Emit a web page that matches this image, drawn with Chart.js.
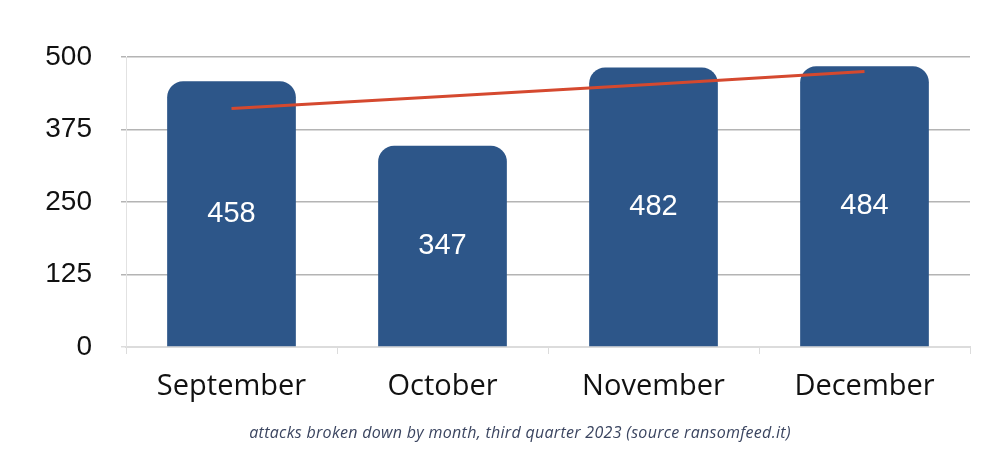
<!DOCTYPE html>
<html>
<head>
<meta charset="utf-8">
<script src="https://cdn.jsdelivr.net/npm/chart.js@4/dist/chart.umd.min.js"></script>
<style>
  html, body { margin: 0; padding: 0; background: #fff; }
  #wrap { position: relative; width: 1004px; height: 459px; }
</style>
</head>
<body>
<div id="wrap"><canvas id="c" width="1004" height="459"></canvas></div>
<script>
// dati
var mesi = ["September", "October", "November", "December"];
var attacchi = [458, 347, 482, 484];
var tendenza = [411, 432, 453, 475];
var tickY = [0, 125, 250, 375, 500];
var didascalia = "attacks broken down by month, third quarter 2023 (source ransomfeed.it)";

var BLU = "#2d5689";
var ROSSO = "#d5492f";

// etichette bianche dentro le barre
var valoriBarre = {
    id: "valoriBarre",
    afterDatasetsDraw: function (chart) {
        var ctx = chart.ctx;
        var meta = chart.getDatasetMeta(1);
        ctx.save();
        ctx.fillStyle = "#ffffff";
        ctx.font = "29px 'Liberation Sans', Arial, sans-serif";
        ctx.textAlign = "center";
        ctx.textBaseline = "middle";
        meta.data.forEach(function (bar, i) {
            var y = (bar.y + bar.base) / 2;
            ctx.fillText(String(attacchi[i]), bar.x, y);
        });
        ctx.restore();
    }
};

// didascalia sotto il grafico
var testoSotto = {
    id: "testoSotto",
    afterDraw: function (chart) {
        var ctx = chart.ctx;
        ctx.save();
        ctx.fillStyle = "#3b4560";
        ctx.font = "italic 16px 'Open Sans', sans-serif";
        ctx.letterSpacing = "0.3px";
        ctx.textAlign = "center";
        ctx.textBaseline = "middle";
        ctx.fillText(didascalia, 520, 433);
        ctx.restore();
    }
};

new Chart(document.getElementById("c"), {
    type: "bar",
    data: {
        labels: mesi,
        datasets: [
            { type: "line", data: tendenza, borderColor: ROSSO, borderWidth: 3, pointRadius: 0, fill: false, order: 0 },
            { type: "bar", data: attacchi, backgroundColor: BLU, borderRadius: 16, barPercentage: 0.61, categoryPercentage: 1, order: 1 }
        ]
    },
    options: {
        responsive: false,
        animation: false,
        layout: { padding: { top: 57, right: 34, bottom: 42, left: 0 } },
        plugins: { legend: { display: false }, tooltip: { enabled: false } },
        scales: {
            x: {
                afterFit: function (s) { s.height = 70; },
                grid: { offset: true, drawOnChartArea: false, drawTicks: true, tickLength: 7, color: "#dcdcdc" },
                border: { color: "#dcdcdc", width: 2 },
                ticks: { color: "#111", padding: 15, font: { family: "'Open Sans', sans-serif", size: 29 } }
            },
            y: {
                min: 0, max: 500,
                afterFit: function (s) { s.width = 126; },
                afterBuildTicks: function (s) { s.ticks = tickY.map(function (v) { return { value: v }; }); },
                grid: {
                    color: function (c) { return c.tick && c.tick.value === 0 ? "#dcdcdc" : "#b4b4b4"; },
                    lineWidth: 1.5, tickLength: 5
                },
                border: { color: "#e2e2e2", width: 1 },
                ticks: { color: "#111", padding: 29, font: { family: "'Liberation Sans', Arial, sans-serif", size: 28 } }
            }
        }
    },
    plugins: [valoriBarre, testoSotto]
});
</script>
</body>
</html>
